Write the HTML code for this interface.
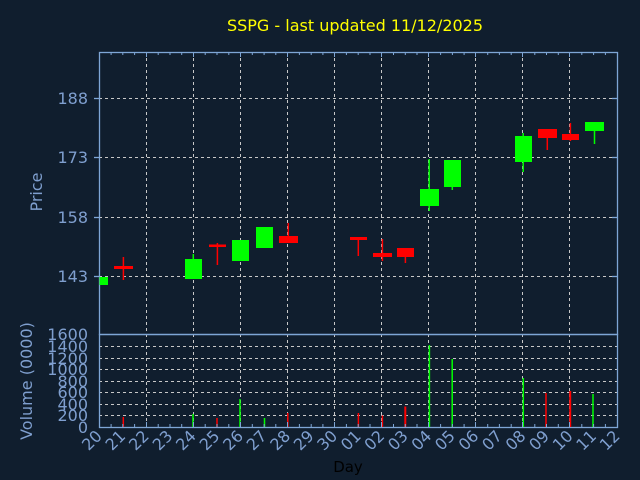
<!DOCTYPE html>
<html><head><meta charset="utf-8"><style>
html,body{margin:0;padding:0;background:#101e2e;}
svg{display:block;font-family:"DejaVu Sans","Liberation Sans",sans-serif;}
</style></head><body>
<svg width="640" height="480" viewBox="0 0 640 480" xmlns="http://www.w3.org/2000/svg">
<rect width="640" height="480" fill="#101e2e"/>
<text x="355" y="31" fill="#ffff00" font-size="16" text-anchor="middle">SSPG - last updated 11/12/2025</text>
<g stroke="#c8c8c8" stroke-width="1" stroke-dasharray="3,3" fill="none">
<line x1="99" y1="98.5" x2="617" y2="98.5"/><line x1="99" y1="157.5" x2="617" y2="157.5"/>
<line x1="99" y1="217.5" x2="617" y2="217.5"/><line x1="99" y1="276.5" x2="617" y2="276.5"/>
<line x1="99" y1="415.5" x2="617" y2="415.5"/><line x1="99" y1="404.5" x2="617" y2="404.5"/>
<line x1="99" y1="392.5" x2="617" y2="392.5"/><line x1="99" y1="381.5" x2="617" y2="381.5"/>
<line x1="99" y1="369.5" x2="617" y2="369.5"/><line x1="99" y1="358.5" x2="617" y2="358.5"/>
<line x1="99" y1="346.5" x2="617" y2="346.5"/>
<g id="vg">
<line x1="146.5" y1="52" x2="146.5" y2="427"/><line x1="193.5" y1="52" x2="193.5" y2="427"/>
<line x1="240.5" y1="52" x2="240.5" y2="427"/><line x1="287.5" y1="52" x2="287.5" y2="427"/>
<line x1="334.5" y1="52" x2="334.5" y2="427"/><line x1="381.5" y1="52" x2="381.5" y2="427"/>
<line x1="428.5" y1="52" x2="428.5" y2="427"/><line x1="475.5" y1="52" x2="475.5" y2="427"/>
<line x1="522.5" y1="52" x2="522.5" y2="427"/><line x1="569.5" y1="52" x2="569.5" y2="427"/>
</g></g>
<g stroke="#7ea6d6" stroke-width="1.3" fill="none">
<rect x="99.5" y="52.5" width="518" height="282"/>
<rect x="99.5" y="334.5" width="518" height="93"/>
<line x1="94" y1="98.5" x2="99" y2="98.5"/><line x1="94" y1="157.5" x2="99" y2="157.5"/>
<line x1="94" y1="217.5" x2="99" y2="217.5"/><line x1="94" y1="276.5" x2="99" y2="276.5"/>
<line x1="612" y1="98.5" x2="617" y2="98.5"/><line x1="612" y1="157.5" x2="617" y2="157.5"/>
<line x1="612" y1="217.5" x2="617" y2="217.5"/><line x1="612" y1="276.5" x2="617" y2="276.5"/>
</g>
<g stroke="#7ea6d6" stroke-width="1" id="ticks"></g>
<g fill="#7f9fcf" font-size="16" text-anchor="end">
<text x="88" y="104">188</text><text x="88" y="163">173</text>
<text x="88" y="223">158</text><text x="88" y="282">143</text>
</g>
<g fill="#7f9fcf" font-size="16" text-anchor="end">
<text x="88" y="340">1600</text><text x="88" y="352">1400</text><text x="88" y="364">1200</text>
<text x="88" y="375">1000</text><text x="88" y="387">800</text><text x="88" y="398">600</text>
<text x="88" y="410">400</text><text x="88" y="421">200</text><text x="88" y="433">0</text>
</g>
<text transform="translate(42,192) rotate(-90)" fill="#7f9fcf" font-size="16" text-anchor="middle">Price</text>
<text transform="translate(32,381) rotate(-90)" fill="#7f9fcf" font-size="16" text-anchor="middle">Volume (0000)</text>
<text x="348" y="472" fill="#000000" font-size="15" text-anchor="middle">Day</text>
<g fill="#7f9fcf" font-size="16" text-anchor="end">
<text transform="translate(103,437) rotate(-45)">20</text>
<text transform="translate(126.5,437) rotate(-45)">21</text>
<text transform="translate(150,437) rotate(-45)">22</text>
<text transform="translate(173.6,437) rotate(-45)">23</text>
<text transform="translate(197,437) rotate(-45)">24</text>
<text transform="translate(220.6,437) rotate(-45)">25</text>
<text transform="translate(244.2,437) rotate(-45)">26</text>
<text transform="translate(267.7,437) rotate(-45)">27</text>
<text transform="translate(291.3,437) rotate(-45)">28</text>
<text transform="translate(314.8,437) rotate(-45)">29</text>
<text transform="translate(338.3,437) rotate(-45)">30</text>
<text transform="translate(361.9,437) rotate(-45)">01</text>
<text transform="translate(385.4,437) rotate(-45)">02</text>
<text transform="translate(409,437) rotate(-45)">03</text>
<text transform="translate(432.5,437) rotate(-45)">04</text>
<text transform="translate(456,437) rotate(-45)">05</text>
<text transform="translate(479.6,437) rotate(-45)">06</text>
<text transform="translate(503.1,437) rotate(-45)">07</text>
<text transform="translate(526.7,437) rotate(-45)">08</text>
<text transform="translate(550.2,437) rotate(-45)">09</text>
<text transform="translate(573.8,437) rotate(-45)">10</text>
<text transform="translate(597.3,437) rotate(-45)">11</text>
<text transform="translate(620.8,437) rotate(-45)">12</text>
</g>
<!-- candles -->
<g>
<rect x="99.5" y="277" width="8.5" height="8" fill="#00ff00"/>
<line x1="123.4" y1="257" x2="123.4" y2="280" stroke="#ff0000" stroke-width="1.5"/>
<rect x="114" y="266" width="19" height="3" fill="#ff0000"/>
<line x1="193.3" y1="254" x2="193.3" y2="259" stroke="#00ff00" stroke-width="1.5"/>
<rect x="185" y="259" width="17" height="20" fill="#00ff00"/>
<line x1="217.4" y1="243" x2="217.4" y2="265" stroke="#ff0000" stroke-width="1.5"/>
<rect x="209" y="244.5" width="17" height="2.5" fill="#ff0000"/>
<rect x="232" y="240" width="17" height="21" fill="#00ff00"/>
<rect x="256" y="227" width="17" height="21" fill="#00ff00"/>
<line x1="288.3" y1="223" x2="288.3" y2="236" stroke="#ff0000" stroke-width="1.5"/>
<rect x="279" y="236" width="19" height="7" fill="#ff0000"/>
<line x1="358.3" y1="237" x2="358.3" y2="256" stroke="#ff0000" stroke-width="1.5"/>
<rect x="350" y="237" width="17" height="3" fill="#ff0000"/>
<line x1="382.4" y1="239" x2="382.4" y2="261" stroke="#ff0000" stroke-width="1.5"/>
<rect x="373" y="253" width="19" height="4" fill="#ff0000"/>
<line x1="405.4" y1="248" x2="405.4" y2="263" stroke="#ff0000" stroke-width="1.5"/>
<rect x="397" y="248" width="17" height="9" fill="#ff0000"/>
<line x1="429.2" y1="159" x2="429.2" y2="211" stroke="#00ff00" stroke-width="1.5"/>
<rect x="420" y="189" width="19" height="17" fill="#00ff00"/>
<line x1="452.3" y1="160" x2="452.3" y2="190" stroke="#00ff00" stroke-width="1.5"/>
<rect x="444" y="160" width="17" height="27" fill="#00ff00"/>
<line x1="523.2" y1="133" x2="523.2" y2="172" stroke="#00ff00" stroke-width="1.5"/>
<rect x="515" y="136" width="17" height="26" fill="#00ff00"/>
<line x1="547.3" y1="129" x2="547.3" y2="150" stroke="#ff0000" stroke-width="1.5"/>
<rect x="538" y="129" width="19" height="9" fill="#ff0000"/>
<line x1="570.4" y1="123" x2="570.4" y2="141" stroke="#ff0000" stroke-width="1.5"/>
<rect x="562" y="134" width="17" height="6" fill="#ff0000"/>
<line x1="594.5" y1="122" x2="594.5" y2="144" stroke="#00ff00" stroke-width="1.5"/>
<rect x="585" y="122" width="19" height="9" fill="#00ff00"/>
</g>
<!-- volume -->
<g stroke-width="1.5">
<line x1="123.3" y1="417" x2="123.3" y2="427" stroke="#ff0000"/>
<line x1="193" y1="414" x2="193" y2="427" stroke="#00ff00"/>
<line x1="217" y1="418" x2="217" y2="427" stroke="#ff0000"/>
<line x1="240" y1="399" x2="240" y2="427" stroke="#00ff00"/>
<line x1="264.5" y1="418" x2="264.5" y2="427" stroke="#00ff00"/>
<line x1="287.8" y1="413" x2="287.8" y2="427" stroke="#ff0000"/>
<line x1="358.4" y1="413" x2="358.4" y2="427" stroke="#ff0000"/>
<line x1="382.4" y1="415.5" x2="382.4" y2="427" stroke="#ff0000"/>
<line x1="405.3" y1="406.5" x2="405.3" y2="427" stroke="#ff0000" stroke-width="2"/>
<line x1="429.4" y1="345" x2="429.4" y2="427" stroke="#00ff00"/>
<line x1="452.2" y1="359" x2="452.2" y2="427" stroke="#00ff00"/>
<line x1="523.3" y1="378" x2="523.3" y2="427" stroke="#00ff00"/>
<line x1="546" y1="393" x2="546" y2="427" stroke="#ff0000"/>
<line x1="570.2" y1="391" x2="570.2" y2="427" stroke="#ff0000" stroke-width="2"/>
<line x1="593" y1="394" x2="593" y2="427" stroke="#00ff00"/>
</g>
<g stroke="#7ea6d6" stroke-width="1">
<path d="M111.1 52v3M122.8 52v3M134.6 52v3M158.2 52v3M170 52v3M181.7 52v3M205.2 52v3M217 52v3M228.8 52v3M252.3 52v3M264.1 52v3M275.8 52v3M299.4 52v3M311.2 52v3M322.9 52v3M346.4 52v3M358.2 52v3M370 52v3M393.5 52v3M405.3 52v3M417 52v3M440.6 52v3M452.4 52v3M464.1 52v3M487.7 52v3M499.4 52v3M511.2 52v3M534.8 52v3M546.5 52v3M558.3 52v3M581.8 52v3M593.6 52v3M605.4 52v3"/>
<path d="M146.5 52v5M193.5 52v5M240.5 52v5M287.5 52v5M334.5 52v5M381.5 52v5M428.5 52v5M475.5 52v5M522.5 52v5M569.5 52v5"/>
<path d="M111.1 427v-3M122.8 427v-3M134.6 427v-3M158.2 427v-3M170 427v-3M181.7 427v-3M205.2 427v-3M217 427v-3M228.8 427v-3M252.3 427v-3M264.1 427v-3M275.8 427v-3M299.4 427v-3M311.2 427v-3M322.9 427v-3M346.4 427v-3M358.2 427v-3M370 427v-3M393.5 427v-3M405.3 427v-3M417 427v-3M440.6 427v-3M452.4 427v-3M464.1 427v-3M487.7 427v-3M499.4 427v-3M511.2 427v-3M534.8 427v-3M546.5 427v-3M558.3 427v-3M581.8 427v-3M593.6 427v-3M605.4 427v-3"/>
<path d="M146.5 427v-5M193.5 427v-5M240.5 427v-5M287.5 427v-5M334.5 427v-5M381.5 427v-5M428.5 427v-5M475.5 427v-5M522.5 427v-5M569.5 427v-5"/>
</g>
</svg>
</body></html>
